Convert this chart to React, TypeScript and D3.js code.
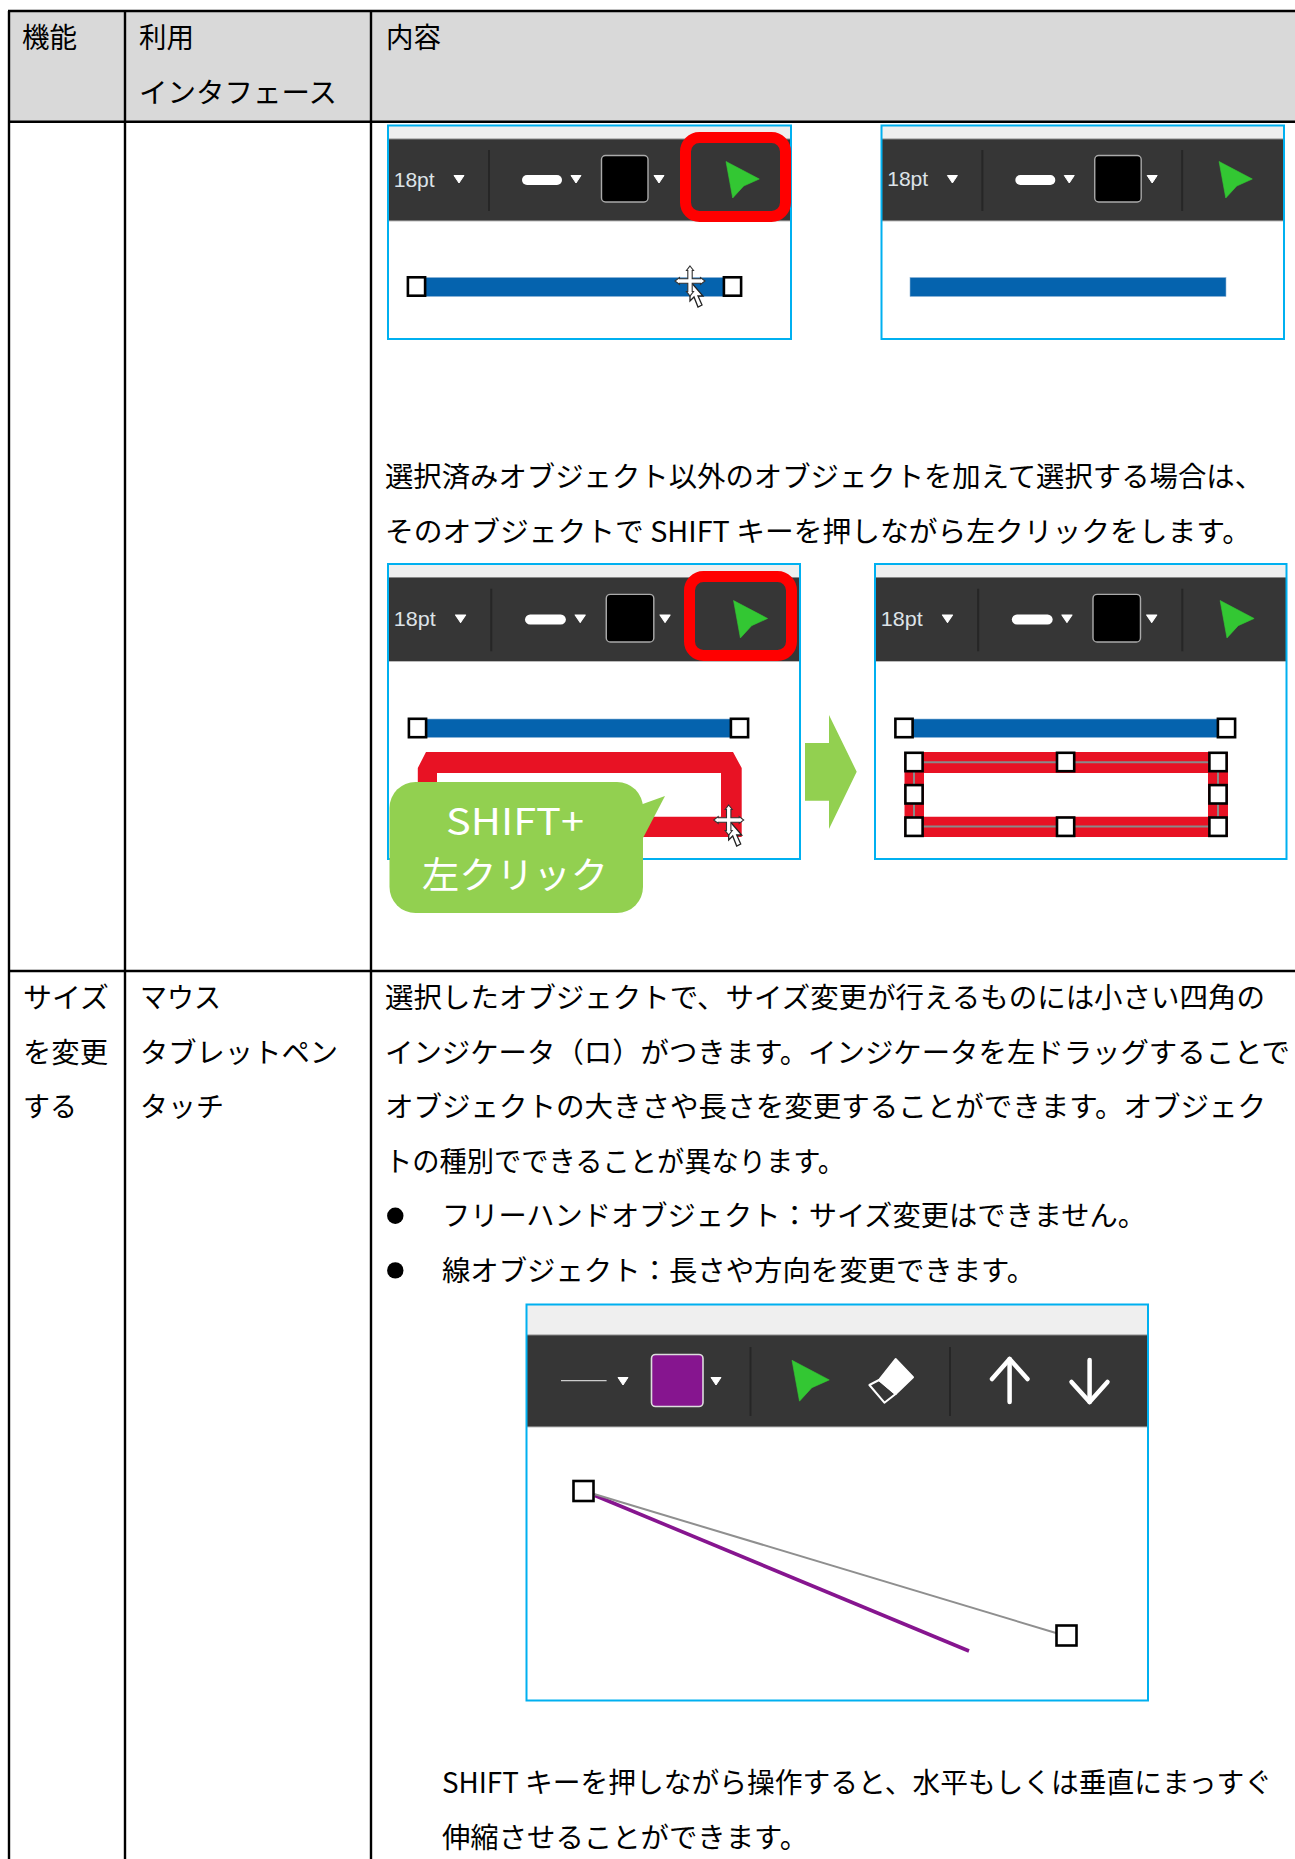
import * as d3 from "d3";
import { useEffect, useRef } from "react";

// Text of the table, line by line
const headerFeature = ["機能"];
const headerInterface = ["利用", "インタフェース"];
const headerContent = ["内容"];
const rowFeature = ["サイズ", "を変更", "する"];
const rowInterface = ["マウス", "タブレットペン", "タッチ"];
const noteLines = [
  "選択済みオブジェクト以外のオブジェクトを加えて選択する場合は、",
  "そのオブジェクトで SHIFT キーを押しながら左クリックをします。",
];
const bodyLines = [
  "選択したオブジェクトで、サイズ変更が行えるものには小さい四角の",
  "インジケータ（ロ）がつきます。インジケータを左ドラッグすることで",
  "オブジェクトの大きさや長さを変更することができます。オブジェク",
  "トの種別でできることが異なります。",
];
const bulletLines = [
  "フリーハンドオブジェクト：サイズ変更はできません。",
  "線オブジェクト：長さや方向を変更できます。",
];
const shiftLines = [
  "SHIFT キーを押しながら操作すると、水平もしくは垂直にまっすぐ",
  "伸縮させることができます。",
];
const calloutLines = ["SHIFT+", "左クリック"];
const toolbarSize = "18pt";

// Measured widths of the lines, the original font is narrower than Noto
const headerWidths = { feature: [55], iface: [55, 198], content: [55] };
const rowFeatureWidths = [86, 85, 54];
const rowInterfaceWidths = [81, 198, 84];
const noteWidths = [878, 866];
const bodyWidths = [880, 905, 881, 460];
const bulletWidths = [704, 593];
const shiftWidths = [830, 366];
const calloutWidths = [138, 186];

const PAGE_W = 1295;
const PAGE_H = 1859;
const LINE_STEP = 54.6;
const FONT = "'Noto Sans CJK JP', sans-serif";

const ink = "#000";
const headerFill = "#d9d9d9";
const frameBlue = "#00b0f0";
const barDark = "#363636";
const barLight = "#efefef";
const markRed = "#ff0000";
const cursorGreen = "#33c733";
const lineBlue = "#0563ae";
const shapeRed = "#e81224";
const calloutGreen = "#92d050";
const linePurple = "#86158f";

const poly = d3.line().curve(d3.curveLinearClosed);
const open = d3.line();

const App = () => {
  const ref = useRef(null);

  useEffect(() => {
    if (ref && ref.current) ref.current.innerHTML = "";

    const svg = d3.select(ref.current)
      .attr("viewBox", [0, 0, PAGE_W, PAGE_H])
      .attr("width", PAGE_W)
      .attr("height", PAGE_H)
      .style("position", "absolute")
      .style("left", 0)
      .style("top", 0)
      .style("font-family", FONT);

    // Lines of text on a regular grid
    function textBlock(lines, widths, x, firstY, size = 28) {
      const y = d3.scaleLinear().domain([0, 1]).range([firstY, firstY + LINE_STEP]);
      svg.append("g")
        .selectAll("text")
        .data(lines)
        .join("text")
          .attr("x", x)
          .attr("y", (d, i) => y(i) + size * 0.36)
          .attr("font-size", size)
          .attr("fill", ink)
          .attr("textLength", (d, i) => widths[i])
          .attr("lengthAdjust", "spacingAndGlyphs")
          .text(d => d);
    }

    // Table
    svg.append("rect").attr("x", 8).attr("y", 11).attr("width", PAGE_W - 8).attr("height", 111).attr("fill", headerFill);
    const rules = [
      [[8, 11], [PAGE_W, 11]],
      [[8, 121.8], [PAGE_W, 121.8]],
      [[8, 971], [PAGE_W, 971]],
      [[9, 11], [9, PAGE_H]],
      [[125, 11], [125, PAGE_H]],
      [[371, 11], [371, PAGE_H]],
    ];
    svg.append("g").selectAll("path").data(rules).join("path")
      .attr("d", d => open(d))
      .attr("stroke", ink)
      .attr("stroke-width", 2.4)
      .attr("fill", "none");

    textBlock(headerFeature, headerWidths.feature, 22, 38);
    textBlock(headerInterface, headerWidths.iface, 139, 38);
    textBlock(headerContent, headerWidths.content, 386, 38);
    textBlock(noteLines, noteWidths, 385, 477);
    textBlock(rowFeature, rowFeatureWidths, 23, 998);
    textBlock(rowInterface, rowInterfaceWidths, 140, 998);
    textBlock(bodyLines, bodyWidths, 385, 998);
    textBlock(bulletLines, bulletWidths, 442, 1216.4);
    textBlock(shiftLines, shiftWidths, 442, 1783);

    // Bullets
    svg.append("g").selectAll("circle").data(bulletLines).join("circle")
      .attr("cx", 395.3)
      .attr("cy", (d, i) => 1215.8 + i * LINE_STEP)
      .attr("r", 8.2)
      .attr("fill", ink);

    function triangle(g, cx, cy) {
      g.append("path")
        .attr("d", poly([[cx - 5, cy - 3.5], [cx + 5, cy - 3.5], [cx, cy + 4]]))
        .attr("fill", "#fff")
        .attr("stroke", "#fff")
        .attr("stroke-linejoin", "round");
    }

    function separator(g, x, y0, y1) {
      g.append("path").attr("d", open([[x, y0], [x, y1]])).attr("stroke", "#262626").attr("stroke-width", 2);
    }

    function arrowCursor(g, x, y, s = 1) {
      g.append("path")
        .attr("d", poly([[x, y], [x + 33.3 * s, y + 17.5 * s], [x + 17.7 * s, y + 24.5 * s], [x + 6.7 * s, y + 36.5 * s]]))
        .attr("fill", cursorGreen)
        .attr("stroke", cursorGreen)
        .attr("stroke-width", 0.6)
        .attr("stroke-linejoin", "round");
    }

    // Application window: title strip and toolbar, laid out in 403px wide units
    function frameWithToolbar(box, strip, bar) {
      const g = svg.append("g");
      g.append("rect").attr("x", box.x).attr("y", box.y).attr("width", box.w).attr("height", strip).attr("fill", barLight);
      g.append("rect").attr("x", box.x).attr("y", box.y + strip).attr("width", box.w).attr("height", bar).attr("fill", barDark);
      g.append("path")
        .attr("d", open([[box.x, box.y + strip], [box.x + box.w, box.y + strip]]))
        .attr("stroke", "#888");
      g.append("path")
        .attr("d", open([[box.x, box.y + strip + bar], [box.x + box.w, box.y + strip + bar]]))
        .attr("stroke", "#bbb");
      return g;
    }

    function frameStroke(box) {
      svg.append("rect")
        .attr("x", box.x).attr("y", box.y).attr("width", box.w).attr("height", box.h)
        .attr("fill", "none").attr("stroke", frameBlue).attr("stroke-width", 2);
    }

    function sizeToolbar(box, barTop, bar, withSep2) {
      const strip = barTop - box.y;
      const root = frameWithToolbar(box, strip, bar);
      const sx = box.w / 403;
      const sy = bar / 82;
      const g = root.append("g").attr("transform", `translate(${box.x},${barTop}) scale(${sx},${sy})`);
      g.append("text")
        .attr("x", 5.7).attr("y", 47.5)
        .attr("font-size", 20).attr("fill", "#dde3e8")
        .attr("font-family", "'Liberation Sans', sans-serif")
        .attr("textLength", 41).attr("lengthAdjust", "spacingAndGlyphs")
        .text(toolbarSize);
      triangle(g, 71, 40);
      separator(g, 101, 11, 72);
      g.append("rect").attr("x", 134).attr("y", 36).attr("width", 40).attr("height", 10).attr("rx", 5).attr("fill", "#fff");
      triangle(g, 188, 40);
      g.append("rect").attr("x", 213.5).attr("y", 16.5).attr("width", 46.5).attr("height", 46.5).attr("rx", 4)
        .attr("fill", "#000").attr("stroke", "#aaa").attr("stroke-width", 1.4);
      triangle(g, 271, 40);
      arrowCursor(g, 338, 22.5);
      if (withSep2) separator(g, 301, 11, 72);
    }

    function redMark(x0, x1, y0, y1) {
      svg.append("rect")
        .attr("x", x0 + 5.5).attr("y", y0 + 5.5)
        .attr("width", x1 - x0 - 11).attr("height", y1 - y0 - 11)
        .attr("rx", 14)
        .attr("fill", "none").attr("stroke", markRed).attr("stroke-width", 11);
    }

    function handle(cx, cy) {
      svg.append("rect")
        .attr("x", cx - 8.6).attr("y", cy - 9.2).attr("width", 17.2).attr("height", 18.4)
        .attr("fill", "#fff").attr("stroke", ink).attr("stroke-width", 2.6);
    }

    function blueBar(x0, x1, y0, y1) {
      svg.append("rect").attr("x", x0).attr("y", y0).attr("width", x1 - x0).attr("height", y1 - y0)
        .attr("fill", lineBlue).attr("stroke", "#8fb5d6").attr("stroke-width", 0.6);
    }

    function moveCursor(cx, cy) {
      const g = svg.append("g").attr("transform", `translate(${cx},${cy})`);
      g.append("path")
        .attr("d", poly([[0, 0], [0, 20], [4, 16], [8, 26], [12, 24], [8, 15], [13, 15]]))
        .attr("fill", "#fff").attr("stroke", "#222").attr("stroke-width", 1.3);
      const cross = "M0,-15L3.5,-10.5H2.2V-2.2H10.5V-3.5L15,0L10.5,3.5V2.2H2.2V10.5H3.5L0,15L-3.5,10.5H-2.2V2.2H-10.5V3.5L-15,0L-10.5,-3.5V-2.2H-2.2V-10.5H-3.5Z";
      g.append("path").attr("d", cross).attr("fill", "#fff").attr("stroke", "#333").attr("stroke-width", 1.1);
    }

    // First row of screenshots
    const box1 = { x: 388, y: 125.5, w: 403, h: 213.5 };
    const box2 = { x: 881.5, y: 125.5, w: 402.5, h: 213.5 };
    sizeToolbar(box1, 139, 82, false);
    sizeToolbar(box2, 139, 82, true);
    blueBar(417, 733, 277.5, 296.5);
    blueBar(910, 1226, 277.5, 296.5);
    handle(416.5, 286.5);
    handle(732.5, 286.5);
    frameStroke(box1);
    frameStroke(box2);
    redMark(680, 791, 132, 222);
    moveCursor(690, 281);

    // Second row of screenshots
    const box3 = { x: 388, y: 564, w: 412, h: 295 };
    const box4 = { x: 875, y: 564, w: 411.5, h: 295 };
    sizeToolbar(box3, 577.5, 84, false);
    sizeToolbar(box4, 577.5, 84, true);
    blueBar(417.5, 739.5, 719, 737.5);
    blueBar(904, 1226.5, 719, 737.5);

    // Red rectangle object, chamfered in the left panel
    svg.append("path")
      .attr("d", poly([[426, 752], [733, 752], [741.7, 768], [741.7, 837], [417.8, 837], [417.8, 768]])
        + poly([[437, 773], [721, 773], [721, 816.7], [437, 816.7]]))
      .attr("fill", shapeRed).attr("fill-rule", "evenodd");
    svg.append("path")
      .attr("d", poly([[904.5, 752], [1228, 752], [1228, 837], [904.5, 837]])
        + poly([[924, 773], [1208, 773], [1208, 816.7], [924, 816.7]]))
      .attr("fill", shapeRed).attr("fill-rule", "evenodd");
    svg.append("path")
      .attr("d", poly([[914, 762.3], [1218, 762.3], [1218, 826.5], [914, 826.5]]))
      .attr("fill", "none").attr("stroke", "#8a8a8a").attr("stroke-width", 2);

    handle(417.5, 728);
    handle(739.5, 728);
    handle(904, 728);
    handle(1226.5, 728);
    [914, 1065.6, 1218].forEach(x => [762, 826.7].forEach(y => handle(x, y)));
    [914, 1218].forEach(x => handle(x, 794.3));

    frameStroke(box3);
    frameStroke(box4);
    redMark(684, 797, 571, 661);
    moveCursor(728.7, 820);

    // Block arrow between the panels
    svg.append("path")
      .attr("d", poly([[805, 743], [829, 743], [829, 715], [856.7, 771.7], [829, 829], [829, 800.7], [805, 800.7]]))
      .attr("fill", calloutGreen);

    // Callout
    svg.append("path")
      .attr("d", poly([[640, 805], [665, 796], [643, 838], [640, 838]]))
      .attr("fill", calloutGreen);
    svg.append("rect")
      .attr("x", 389.5).attr("y", 782).attr("width", 253.5).attr("height", 131).attr("rx", 26)
      .attr("fill", calloutGreen);
    svg.append("g").selectAll("text").data(calloutLines).join("text")
      .attr("x", 515)
      .attr("y", (d, i) => 835 + i * 53.5)
      .attr("text-anchor", "middle")
      .attr("font-size", 37)
      .attr("fill", "#fff")
      .attr("textLength", (d, i) => calloutWidths[i])
      .attr("lengthAdjust", "spacingAndGlyphs")
      .text(d => d);

    // Third screenshot, line tools
    const box5 = { x: 526.5, y: 1304.5, w: 621.5, h: 396 };
    const tools = frameWithToolbar(box5, 30.5, 92);
    tools.append("path").attr("d", open([[561, 1380.7], [606.6, 1380.7]])).attr("stroke", "#ccc").attr("stroke-width", 1.2);
    triangle(tools, 623, 1381);
    tools.append("rect").attr("x", 651.5).attr("y", 1354.5).attr("width", 51.5).attr("height", 52).attr("rx", 4)
      .attr("fill", linePurple).attr("stroke", "#ddd").attr("stroke-width", 1.6);
    triangle(tools, 716, 1381);
    separator(tools, 750.5, 1347, 1416);
    arrowCursor(tools, 792, 1360.3, 1.12);
    tools.append("path")
      .attr("d", poly([[895.6, 1359], [913, 1377.3], [895.6, 1394], [879, 1380]]))
      .attr("fill", "#fff").attr("stroke", "#fff").attr("stroke-linejoin", "round").attr("stroke-width", 2);
    tools.append("path")
      .attr("d", poly([[879, 1380], [895.6, 1394], [884.4, 1402.7], [869.4, 1385]]))
      .attr("fill", "none").attr("stroke", "#fff").attr("stroke-linejoin", "round").attr("stroke-width", 2);
    separator(tools, 950, 1347, 1416);
    const white = g => g.attr("fill", "none").attr("stroke", "#fff").attr("stroke-width", 4.5).attr("stroke-linecap", "round").attr("stroke-linejoin", "round");
    tools.append("path").attr("d", open([[1009.6, 1402], [1009.6, 1359]])).call(white);
    tools.append("path").attr("d", open([[992, 1379], [1009.6, 1359], [1027.5, 1379]])).call(white);
    tools.append("path").attr("d", open([[1089.6, 1360], [1089.6, 1402]])).call(white);
    tools.append("path").attr("d", open([[1071.5, 1382], [1089.6, 1402], [1107.5, 1382]])).call(white);

    svg.append("path").attr("d", open([[595, 1495.5], [969, 1651]])).attr("stroke", linePurple).attr("stroke-width", 3.6);
    svg.append("path").attr("d", open([[594, 1494], [1056, 1633]])).attr("stroke", "#8f8f8f").attr("stroke-width", 2);
    svg.append("rect").attr("x", 573.5).attr("y", 1481).attr("width", 20).attr("height", 20)
      .attr("fill", "#fff").attr("stroke", ink).attr("stroke-width", 2.6);
    svg.append("rect").attr("x", 1056.5).attr("y", 1625.5).attr("width", 20).attr("height", 20)
      .attr("fill", "#fff").attr("stroke", ink).attr("stroke-width", 2.6);
    frameStroke(box5);
  }, []);

  return <svg ref={ref} />;
};

export default App;
